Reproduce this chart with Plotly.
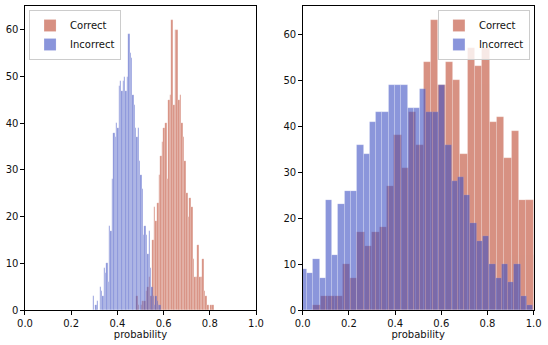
import plotly.graph_objects as go

# left panel: narrow bins
left_correct_start = 0.480
left_correct_width = 0.007
left_correct_counts = [3, 1, 0, 1, 2, 2, 4, 5, 7, 3, 15, 22, 19, 23, 29, 33, 36, 39, 40, 28,
                       45, 46, 62, 44, 60, 60, 45, 46, 40, 37, 32, 25, 20, 24, 22, 11, 7, 7, 14, 7,
                       7, 11, 4, 3, 1, 0, 1, 1]

left_incorrect_start = 0.293
left_incorrect_width = 0.0059
left_incorrect_counts = [3, 0, 1, 2, 0, 5, 4, 3, 9, 8, 10, 6, 18, 17, 28, 38, 37, 40, 39, 48,
                         49, 47, 49, 50, 47, 50, 59, 55, 54, 46, 44, 39, 37, 39, 32, 29, 26, 16, 18, 16,
                         12, 17, 9, 5, 3, 1, 3, 2, 1, 1]

# right panel: wide bins
right_correct_start = 0.045
right_correct_width = 0.0318
right_correct_counts = [1, 3, 3, 3, 10, 7, 17, 14, 17, 18, 27, 38, 31, 43, 36, 54, 63, 49, 54, 50,
                        34, 57, 53, 57, 41, 42, 33, 39, 24, 24, 12]

right_incorrect_start = -0.0098
right_incorrect_width = 0.0272
right_incorrect_counts = [9, 8, 11, 7, 24, 12, 23, 26, 26, 36, 34, 41, 43, 43, 49, 49, 49, 44, 44, 48,
                          43, 43, 49, 36, 28, 29, 25, 19, 15, 16, 10, 7, 10, 6, 10, 3, 1]

x_ticks = [0.0, 0.2, 0.4, 0.6, 0.8, 1.0]
y_ticks = [0, 10, 20, 30, 40, 50, 60]

RED = "rgb(190,72,48)"
BLUE = "rgb(62,80,196)"
FONT = "DejaVu Sans"


def centers(start, width, counts):
    return [start + (i + 0.5) * width for i in range(len(counts))]


def hist_trace(start, width, counts, name, color, xaxis, yaxis, legend):
    return go.Bar(
        x=centers(start, width, counts),
        y=counts,
        width=width,
        name=name,
        marker=dict(color=color, line=dict(color="rgba(255,255,255,0.5)", width=0.3)),
        opacity=0.6,
        xaxis=xaxis,
        yaxis=yaxis,
        legend=legend,
    )


fig = go.Figure()
fig.add_trace(hist_trace(left_correct_start, left_correct_width, left_correct_counts,
                         "Correct", RED, "x", "y", "legend"))
fig.add_trace(hist_trace(left_incorrect_start, left_incorrect_width, left_incorrect_counts,
                         "Incorrect", BLUE, "x", "y", "legend"))
fig.add_trace(hist_trace(right_correct_start, right_correct_width, right_correct_counts,
                         "Correct", RED, "x2", "y2", "legend2"))
fig.add_trace(hist_trace(right_incorrect_start, right_incorrect_width, right_incorrect_counts,
                         "Incorrect", BLUE, "x2", "y2", "legend2"))

axis_common = dict(
    showline=True, mirror=True, linecolor="black", linewidth=1,
    ticks="outside", ticklen=3.5, tickcolor="black", tickwidth=0.8,
    showgrid=False, zeroline=False, automargin=False,
    tickfont=dict(family=FONT, size=10, color="#111111"),
)

y_dom = [0.1014, 0.9826]
legend_common = dict(
    yanchor="top", y=0.971,
    bgcolor="rgba(255,255,255,0.8)", bordercolor="#cccccc", borderwidth=1,
    font=dict(family=FONT, size=10, color="#111111"), traceorder="normal",
    itemwidth=30,
)
fig.update_layout(
    width=548, height=345,
    margin=dict(l=0, r=0, t=0, b=0),
    paper_bgcolor="white", plot_bgcolor="white",
    barmode="overlay", bargap=0,
    font=dict(family=FONT, size=10, color="#111111"),
    xaxis=dict(domain=[0.0456, 0.4672], range=[0, 1], tickvals=x_ticks, tickformat=".1f",
               title=dict(text="probability", standoff=2, font=dict(size=10)), anchor="y", **axis_common),
    yaxis=dict(domain=y_dom, range=[0, 65.1], tickvals=y_ticks, anchor="x", **axis_common),
    xaxis2=dict(domain=[0.5524, 0.9739], range=[0, 1], tickvals=x_ticks, tickformat=".1f",
                title=dict(text="probability", standoff=2, font=dict(size=10)), anchor="y2", **axis_common),
    yaxis2=dict(domain=y_dom, range=[0, 66.15], tickvals=y_ticks, anchor="x2", **axis_common),
    legend=dict(x=0.053, xanchor="left", **legend_common),
    legend2=dict(x=0.967, xanchor="right", **legend_common),
)

fig.write_html(
    "out.html",
    config={"displayModeBar": False},
    post_script="document.body.style.margin='0';document.body.style.overflow='hidden';",
)
